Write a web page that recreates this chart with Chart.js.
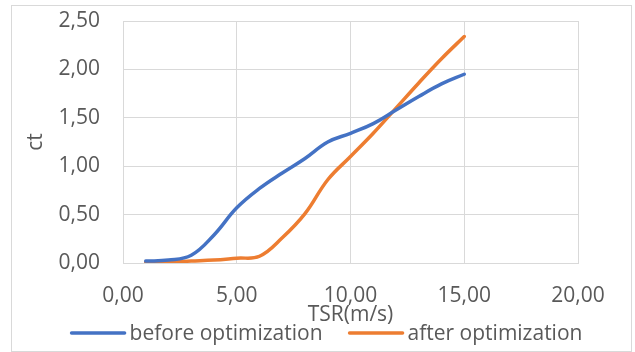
<!DOCTYPE html>
<html>
<head>
<meta charset="utf-8">
<script src="https://cdn.jsdelivr.net/npm/chart.js@4/dist/chart.umd.min.js"></script>
<style>
  html, body { margin: 0; padding: 0; background: #fff; }
  #wrap { width: 635px; height: 352px; }
</style>
</head>
<body>
<div id="wrap"><canvas id="ctChart" width="635" height="352"></canvas></div>
<script>
// TSR values and ct curves
const tsr = [1, 2, 3, 4, 5, 6, 7, 8, 9, 10, 11, 12, 13, 14, 15];
const ctBefore = [0.02, 0.03, 0.08, 0.29, 0.57, 0.77, 0.93, 1.08, 1.25, 1.34, 1.44, 1.58, 1.72, 1.85, 1.95];
const ctAfter = [0.01, 0.01, 0.02, 0.03, 0.05, 0.07, 0.26, 0.51, 0.86, 1.10, 1.34, 1.60, 1.86, 2.11, 2.34];
const seriesNames = ['before optimization', 'after optimization'];
const seriesColors = ['#4472C4', '#ED7D31'];
const xTicks = [0, 5, 10, 15, 20];
const yTicks = [0, 0.5, 1, 1.5, 2, 2.5];

const FONT = 'Open Sans';
const TEXT = '#595959';
const GRID = '#d9d9d9';

const fmt = v => Number(v).toFixed(2).replace('.', ',');
const toPoints = ys => tsr.map((x, i) => ({ x: x, y: ys[i] }));

// outer frame + legend row under the axis title
const frameAndLegend = {
  id: 'frameAndLegend',
  beforeDraw(chart) {
    const ctx = chart.ctx;
    ctx.save();
    ctx.strokeStyle = GRID;
    ctx.lineWidth = 1;
    ctx.strokeRect(11.5, 5.5, 620, 346);
    ctx.restore();
  },
  afterDraw(chart) {
    const ctx = chart.ctx;
    const y = 333, lineLen = 53, gap = 5, itemGap = 27;
    ctx.save();
    ctx.font = '21px "' + FONT + '"';
    ctx.textBaseline = 'middle';
    ctx.textAlign = 'left';
    const items = chart.data.datasets.map(ds => ({
      label: ds.label, color: ds.borderColor, w: ctx.measureText(ds.label).width
    }));
    let total = 0;
    items.forEach((it, i) => { total += lineLen + gap + it.w + (i ? itemGap : 0); });
    let x = 327 - total / 2;
    items.forEach(it => {
      ctx.strokeStyle = it.color;
      ctx.lineWidth = 3.5;
      ctx.lineCap = 'round';
      ctx.beginPath();
      ctx.moveTo(x, y);
      ctx.lineTo(x + lineLen, y);
      ctx.stroke();
      ctx.fillStyle = TEXT;
      ctx.fillText(it.label, x + lineLen + gap, y + 1);
      x += lineLen + gap + it.w + itemGap;
    });
    ctx.restore();
  }
};

new Chart(document.getElementById('ctChart'), {
  type: 'scatter',
  data: {
    datasets: [
      {
        label: seriesNames[0],
        data: toPoints(ctBefore),
        showLine: true,
        borderColor: seriesColors[0],
        backgroundColor: seriesColors[0],
        borderWidth: 3.5,
        pointRadius: 0,
        tension: 0.4,
        borderCapStyle: 'round'
      },
      {
        label: seriesNames[1],
        data: toPoints(ctAfter),
        showLine: true,
        borderColor: seriesColors[1],
        backgroundColor: seriesColors[1],
        borderWidth: 3.5,
        pointRadius: 0,
        tension: 0.4,
        borderCapStyle: 'round'
      }
    ]
  },
  options: {
    responsive: false,
    animation: false,
    layout: { padding: { left: 12, top: 21, right: 57, bottom: 24 } },
    plugins: {
      legend: { display: false },
      tooltip: { enabled: false }
    },
    scales: {
      x: {
        type: 'linear',
        min: 0,
        max: 20,
        afterBuildTicks: axis => { axis.ticks = xTicks.map(v => ({ value: v })); },
        afterFit: axis => { axis.height = 65; },
        grid: { color: GRID, lineWidth: 1, drawTicks: false },
        border: { color: GRID, width: 1 },
        ticks: {
          padding: 20,
          color: TEXT,
          font: { family: FONT, size: 21 },
          maxRotation: 0,
          callback: v => fmt(v)
        },
        title: {
          display: true,
          text: 'TSR(m/s)',
          color: TEXT,
          font: { family: FONT, size: 21 },
          padding: { top: 0, bottom: 0 }
        }
      },
      y: {
        min: 0,
        max: 2.5,
        afterBuildTicks: axis => { axis.ticks = yTicks.map(v => ({ value: v })); },
        afterFit: axis => { axis.width = 111; },
        // invisible tick marks keep the labels away from the axis
        grid: { color: GRID, lineWidth: 1, drawTicks: true, tickLength: 23, tickColor: 'rgba(0,0,0,0)' },
        border: { color: GRID, width: 1 },
        ticks: {
          padding: 0,
          color: TEXT,
          font: { family: FONT, size: 21 },
          callback: v => fmt(v)
        },
        title: {
          display: true,
          text: 'ct',
          color: TEXT,
          font: { family: FONT, size: 21 },
          padding: { top: 11, bottom: 0 }
        }
      }
    }
  },
  plugins: [frameAndLegend]
});
</script>
</body>
</html>
